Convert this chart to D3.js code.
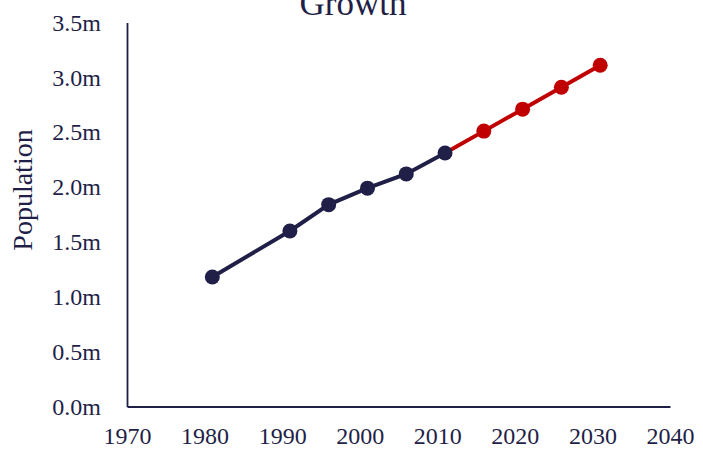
<!DOCTYPE html>
<html>
<head>
<meta charset="utf-8">
<script src="https://cdn.jsdelivr.net/npm/d3@7"></script>
<style>
  html, body { margin: 0; padding: 0; background: #fff; }
  svg { display: block; }
  text { font-family: "Liberation Serif", "Times New Roman", serif; fill: #1f1f48; }
</style>
</head>
<body>
<svg id="chart" width="703" height="452"></svg>
<script>
const title = "Growth";
const yLabel = "Population";
const histYears = [1981, 1991, 1996, 2001, 2006, 2011];
const histValues = [1.18, 1.60, 1.84, 1.99, 2.12, 2.31];
const projYears = [2011, 2016, 2021, 2026, 2031];
const projValues = [2.31, 2.51, 2.71, 2.91, 3.11];
const xTicks = [1970, 1980, 1990, 2000, 2010, 2020, 2030, 2040];
const yTicks = [0, 0.5, 1.0, 1.5, 2.0, 2.5, 3.0, 3.5];

const navy = "#1f1f48", red = "#c00000";
const svg = d3.select("#chart");

const x = d3.scaleLinear().domain([1970, 2040]).range([127, 670]);
const y = d3.scaleLinear().domain([0, 3.5]).range([406.5, 22.5]);

const xAxis = d3.axisBottom(x).tickValues(xTicks).tickFormat(d3.format("d")).tickSize(0).tickPadding(20);
const gx = svg.append("g").attr("transform", `translate(0,${y(0)})`).call(xAxis);
gx.select(".domain").attr("stroke", navy).attr("stroke-width", 1.8);
gx.selectAll("text").style("font-size", "24px").attr("fill", navy);

const yAxis = d3.axisLeft(y).tickValues(yTicks).tickFormat(d => d.toFixed(1) + "m").tickSize(0).tickPadding(26);
const gy = svg.append("g").attr("transform", `translate(${x(1970)},0)`).call(yAxis);
gy.select(".domain").attr("stroke", navy).attr("stroke-width", 1.8);
gy.selectAll("text").style("font-size", "24px").attr("fill", navy);

svg.append("text").attr("x", 353).attr("y", 15).attr("text-anchor", "middle")
  .style("font-size", "35px").text(title);

svg.append("text").attr("transform", "translate(32,190) rotate(-90)")
  .attr("text-anchor", "middle").style("font-size", "28px").text(yLabel);

const line = d3.line().x(d => x(d[0])).y(d => y(d[1]));
const proj = d3.zip(projYears, projValues);
const hist = d3.zip(histYears, histValues);

svg.append("path").datum(proj).attr("d", line).attr("fill", "none")
  .attr("stroke", red).attr("stroke-width", 4);
svg.selectAll(".pdot").data(proj.slice(1)).enter().append("circle")
  .attr("cx", d => x(d[0])).attr("cy", d => y(d[1])).attr("r", 7.5).attr("fill", red);

svg.append("path").datum(hist).attr("d", line).attr("fill", "none")
  .attr("stroke", navy).attr("stroke-width", 4);
svg.selectAll(".hdot").data(hist).enter().append("circle")
  .attr("cx", d => x(d[0])).attr("cy", d => y(d[1])).attr("r", 7.5).attr("fill", navy);
</script>
</body>
</html>
